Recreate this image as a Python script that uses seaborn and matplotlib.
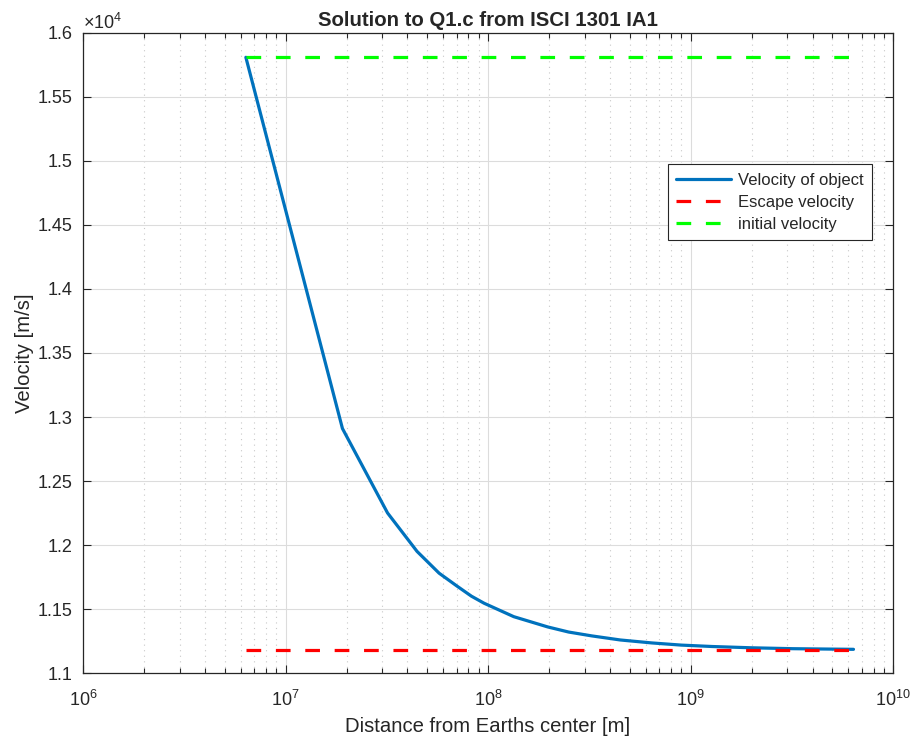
import numpy as np
import pandas as pd
import matplotlib
matplotlib.use("Agg")
import matplotlib.pyplot as plt
from matplotlib.ticker import LogLocator, ScalarFormatter, MultipleLocator, NullFormatter
import seaborn as sns

# Values
distance_m = [6.37e6, 1.91e7, 3.19e7, 4.46e7, 5.73e7, 7.01e7, 8.28e7, 9.56e7,
              1.34e8, 1.97e8, 2.50e8, 3.25e8, 4.50e8, 6.43e8, 9.00e8,
              1.28e9, 2.00e9, 3.19e9, 6.37e9]
velocity_ms = [15810, 12910, 12250, 11950, 11780, 11680, 11600, 11545,
               11440, 11360, 11320, 11290, 11258, 11235, 11218,
               11207, 11197, 11190, 11185]

line_x = [6.37e6, 6.37e9]
escape_velocity = [11180, 11180]
initial_velocity = [15810, 15810]


class ShortFormatter(ScalarFormatter):
    # MATLAB-like tick labels: 1.6, 1.55, 1.5 ...
    def _set_format(self):
        self.format = '%g'


sns.set_style("ticks")
plt.rcParams['font.family'] = ['Liberation Sans', 'DejaVu Sans']
plt.rcParams['mathtext.default'] = 'regular'
plt.rcParams['axes.edgecolor'] = '#262626'
plt.rcParams['xtick.color'] = '#262626'
plt.rcParams['ytick.color'] = '#262626'

fig = plt.figure(figsize=(9.17, 7.43), dpi=100)
ax = fig.add_axes([0.0905, 0.0942, 0.8835, 0.8614])

curve = pd.DataFrame({'x': distance_m, 'v': velocity_ms})
esc = pd.DataFrame({'x': line_x, 'v': escape_velocity})
init = pd.DataFrame({'x': line_x, 'v': initial_velocity})

sns.lineplot(data=curve, x='x', y='v', ax=ax, color='#0072BD', lw=2.3,
             label='Velocity of object', sort=False)
sns.lineplot(data=esc, x='x', y='v', ax=ax, color='#FF0000', lw=2.3,
             label='Escape velocity')
sns.lineplot(data=init, x='x', y='v', ax=ax, color='#00FF00', lw=2.3,
             label='initial velocity')
ax.lines[1].set_dashes((4.6, 4.6))
ax.lines[2].set_dashes((4.6, 4.6))

ax.set_xscale('log')
ax.set_xlim(1e6, 1e10)
ax.set_ylim(11000, 16000)
ax.xaxis.set_major_locator(LogLocator(base=10, numticks=10))
ax.xaxis.set_minor_locator(LogLocator(base=10, subs=np.arange(2, 10), numticks=20))
ax.xaxis.set_minor_formatter(NullFormatter())
ax.yaxis.set_major_locator(MultipleLocator(500))
fmt = ShortFormatter(useMathText=True)
fmt.set_powerlimits((0, 0))
ax.yaxis.set_major_formatter(fmt)

ax.grid(True, which='major', color='#dcdcdc', lw=0.8, ls='-')
ax.grid(True, which='minor', axis='x', color='#c8c8c8', lw=0.8, ls=(0, (1, 4)))
ax.set_axisbelow(True)

ax.tick_params(which='both', direction='in', top=True, right=True, labelsize=13)
ax.tick_params(which='major', length=6, width=0.8)
ax.tick_params(which='minor', length=3.5, width=0.8)
ax.tick_params(axis='x', pad=12)
ax.tick_params(axis='y', pad=7.5)
for s in ax.spines.values():
    s.set_linewidth(0.9)
ax.yaxis.get_offset_text().set_fontsize(13)

ax.set_xlabel('Distance from Earths center [m]', fontsize=14.6, labelpad=5)
ax.set_ylabel('Velocity [m/s]', fontsize=14.6, labelpad=3)
ax.set_title('Solution to Q1.c from ISCI 1301 IA1', fontsize=14.7, fontweight='bold', pad=5)

leg = ax.legend(loc='upper left', bbox_to_anchor=(0.722, 0.795), fontsize=12,
                frameon=True, fancybox=False, edgecolor='#262626', framealpha=1,
                handlelength=3.3, handletextpad=0.4, borderpad=0.5,
                labelspacing=0.42, borderaxespad=0)
leg.get_frame().set_linewidth(0.8)

fig.savefig('out.png', dpi=100)
